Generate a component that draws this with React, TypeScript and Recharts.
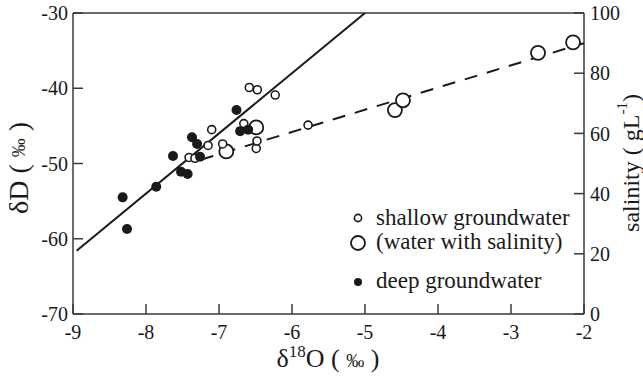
import React from "react";
import { ScatterChart, Scatter, XAxis, YAxis, ReferenceLine, Legend } from "recharts";

const xTicks = [-9, -8, -7, -6, -5, -4, -3, -2];
const dTicks = [-70, -60, -50, -40, -30];
const salinityTicks = [0, 20, 40, 60, 80, 100];

const seriesNames = ["shallow groundwater", "(water with salinity)", "deep groundwater"];

// shallow groundwater (small open circles)
const shallowO18 = [-7.41, -7.33, -7.15, -7.1, -6.95, -6.66, -6.49, -6.48, -6.585, -6.475, -6.23, -5.78];
const shallowD = [-49.2, -49.3, -47.6, -45.5, -47.4, -44.7, -48.0, -47.0, -39.9, -40.2, -40.9, -44.9];

// water with salinity (large open circles)
const salineO18 = [-6.9, -6.49, -4.59, -4.48, -2.63, -2.15];
const salineD = [-48.4, -45.2, -42.9, -41.6, -35.3, -33.9];

// deep groundwater (filled)
const deepO18 = [-8.32, -8.26, -7.86, -7.63, -7.52, -7.43, -7.37, -7.3, -7.26, -6.76, -6.71, -6.6];
const deepD = [-54.5, -58.7, -53.1, -49.0, -51.1, -51.4, -46.5, -47.4, -49.1, -42.9, -45.7, -45.5];

// fitted lines
const gmwlO18 = [-8.95, -5.0];
const gmwlD = [-61.6, -30];
const mixO18 = [-7.25, -2.0];
const mixD = [-49.5, -34.0];

const toPoints = (xs: number[], ys: number[]) => xs.map((x, i) => ({ x, y: ys[i] }));

const ink = "#1a1a1a";
const axisColor = "#3a3a3a";
const serif = "'Liberation Serif', 'Times New Roman', serif";

const SmallOpen = (p: any) => (
  <circle cx={p.cx} cy={p.cy} r={4} fill="#fff" stroke={ink} strokeWidth={1.6} />
);
const LargeOpen = (p: any) => (
  <circle cx={p.cx} cy={p.cy} r={7} fill="#fff" stroke={ink} strokeWidth={1.8} />
);
const Filled = (p: any) => <circle cx={p.cx} cy={p.cy} r={5} fill={ink} />;
const NoDot = () => <g />;

const XLabel = () => (
  <text x={328} y={367} textAnchor="middle" fill={ink} fontFamily={serif} fontSize={26}>
    δ<tspan fontSize={17} dy={-10}>18</tspan>
    <tspan dy={10}>O ( </tspan>
    <tspan fontSize={18}>‰</tspan>
    <tspan> )</tspan>
  </text>
);

const YLabel = () => (
  <text
    x={18}
    y={168}
    transform="rotate(-90 18 168)"
    textAnchor="middle"
    dominantBaseline="central"
    fill={ink}
    fontFamily={serif}
    fontSize={28}
  >
    δD ( <tspan fontSize={19}>‰</tspan> )
  </text>
);

const SalinityLabel = () => (
  <text
    x={631}
    y={163}
    transform="rotate(-90 631 163)"
    textAnchor="middle"
    dominantBaseline="central"
    fill={ink}
    fontFamily={serif}
    fontSize={24}
  >
    salinity ( gL<tspan fontSize={15} dy={-9}>-1</tspan>
    <tspan dy={9}>)</tspan>
  </text>
);

const LegendBox = () => {
  const rows = [
    { cy: 18, ty: 19, mark: <circle cx={10} cy={10} r={3.6} fill="#fff" stroke={ink} strokeWidth={1.6} /> },
    { cy: 43, ty: 43, mark: <circle cx={10} cy={10} r={7} fill="#fff" stroke={ink} strokeWidth={1.8} /> },
    { cy: 82, ty: 82, mark: <circle cx={10} cy={10} r={4} fill={ink} /> },
  ];
  return (
    <div style={{ position: "relative", width: 260, height: 100 }}>
      {rows.map((r, i) => (
        <React.Fragment key={seriesNames[i]}>
          <svg width={20} height={20} style={{ position: "absolute", left: 8, top: r.cy - 10 }}>
            {r.mark}
          </svg>
          <span
            style={{
              position: "absolute",
              left: 36,
              top: r.ty - 15,
              lineHeight: "28px",
              fontSize: 23,
              fontFamily: serif,
              color: ink,
              whiteSpace: "nowrap",
            }}
          >
            {seriesNames[i]}
          </span>
        </React.Fragment>
      ))}
    </div>
  );
};

const tickStyle = { fill: ink, fontSize: 20, fontFamily: serif };
const axisLine = { stroke: axisColor, strokeWidth: 1.5 };

export default function App() {
  return (
    <div style={{ position: "absolute", left: 0, top: 0, background: "#fff" }}>
      <ScatterChart width={643} height={377} margin={{ top: 13, right: 0, bottom: 0, left: 0 }}>
        <XAxis
          type="number"
          dataKey="x"
          domain={[-9, -2]}
          ticks={xTicks}
          interval={0}
          height={63}
          tick={tickStyle}
          tickSize={-10}
          tickMargin={21}
          axisLine={axisLine}
          tickLine={axisLine}
          allowDataOverflow
          label={<XLabel />}
        />
        <YAxis
          yAxisId="d"
          type="number"
          dataKey="y"
          domain={[-70, -30]}
          ticks={dTicks}
          interval={0}
          width={73}
          tick={tickStyle}
          tickSize={-10}
          tickMargin={15}
          axisLine={axisLine}
          tickLine={axisLine}
          allowDataOverflow
          label={<YLabel />}
        />
        <YAxis
          yAxisId="sal"
          orientation="right"
          type="number"
          domain={[0, 100]}
          ticks={salinityTicks}
          interval={0}
          width={59}
          tick={tickStyle}
          tickSize={-10}
          tickMargin={16}
          axisLine={axisLine}
          tickLine={axisLine}
          allowDataOverflow
          label={<SalinityLabel />}
        />
        <ReferenceLine yAxisId="d" y={-30} stroke={axisColor} strokeWidth={1.5} />
        <Scatter
          yAxisId="d"
          data={toPoints(gmwlO18, gmwlD)}
          line={{ stroke: ink, strokeWidth: 2 }}
          shape={NoDot}
          legendType="none"
          isAnimationActive={false}
        />
        <Scatter
          yAxisId="d"
          data={toPoints(mixO18, mixD)}
          line={{ stroke: ink, strokeWidth: 2, strokeDasharray: "13 10" }}
          shape={NoDot}
          legendType="none"
          isAnimationActive={false}
        />
        <Scatter
          yAxisId="d"
          name={seriesNames[1]}
          data={toPoints(salineO18, salineD)}
          shape={LargeOpen}
          isAnimationActive={false}
        />
        <Scatter
          yAxisId="d"
          name={seriesNames[0]}
          data={toPoints(shallowO18, shallowD)}
          shape={SmallOpen}
          isAnimationActive={false}
        />
        <Scatter
          yAxisId="d"
          name={seriesNames[2]}
          data={toPoints(deepO18, deepD)}
          shape={Filled}
          isAnimationActive={false}
        />
        <Legend
          layout="vertical"
          align="center"
          verticalAlign="middle"
          content={<LegendBox />}
          wrapperStyle={{ left: 340, top: 200, width: 260, height: 100 }}
        />
      </ScatterChart>
    </div>
  );
}
